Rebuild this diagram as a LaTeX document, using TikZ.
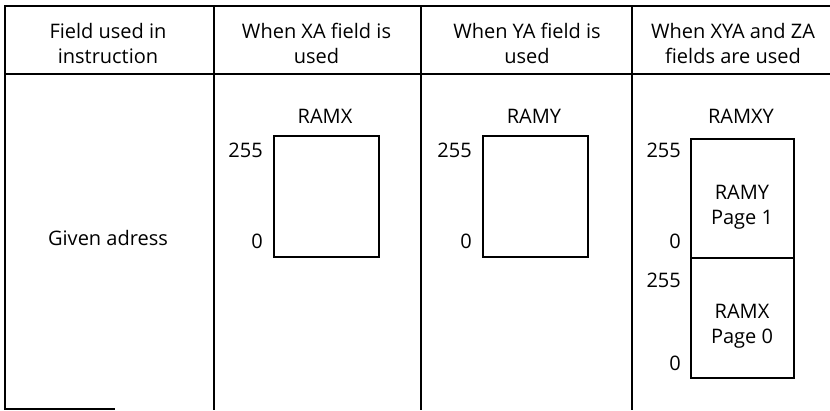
\documentclass[tikz,border=0pt]{standalone}
\usepackage{fontspec}
\setmainfont{Open Sans}
\begin{document}
\begin{tikzpicture}[x=1pt,y=-1pt,
  grid/.style={line width=1.4pt},
  txt/.style={font=\fontsize{20}{25}\selectfont, inner sep=0pt, align=center, anchor=base},
  memb/.style={draw, line width=1.4pt, inner sep=0pt},
  num/.style={font=\fontsize{20}{25}\selectfont, inner sep=0pt, anchor=base east}]
\useasboundingbox (0,0) rectangle (830,410);
% table grid
\coordinate (tl) at (5,6);
\coordinate (tr) at (830,6);
\coordinate (hl) at (5,74);
\coordinate (hr) at (830,74);
\coordinate (bl) at (5,409);
\coordinate (bm) at (115,409);
\draw[grid] (tr) -- (tl) -- (bl) -- (bm);
\draw[grid] (hl) -- (hr);
\foreach \x/\n in {214/a,421/b,632/c}{
  \coordinate (\n t) at (\x,6);
  \coordinate (\n b) at (\x,410);
  \draw[grid] (\n t) -- (\n b);
}
% headers (base anchor = baseline of last line)
\node[txt] (h1) at (108,63) {Field used in\\instruction};
\node[txt] (h2) at (316.5,63) {When XA field is\\used};
\node[txt] (h3) at (527,63) {When YA field is\\used};
\node[txt] (h4) at (733,63) {When XYA and ZA\\fields are used};
\node[txt] (ga) at (108,245) {Given adress};
% RAMX
\node[txt] (rx) at (325,123) {RAMX};
\node[memb, minimum width=105, minimum height=121] (bx) at (326.5,196.5) {};
\node[num] (x255) at (263,157) {255};
\node[num] (x0) at (263,248) {0};
% RAMY
\node[txt] (ry) at (534,123) {RAMY};
\node[memb, minimum width=105, minimum height=121] (by) at (535.5,196.5) {};
\node[num] (y255) at (472,157) {255};
\node[num] (y0) at (472,248) {0};
% RAMXY
\node[txt] (rxy) at (741,123) {RAMXY};
\node[memb, minimum width=103, minimum height=119] (bp1) at (742.5,198.5) {};
\node[memb, minimum width=103, minimum height=120] (bp0) at (742.5,318) {};
\node[txt] (p1) at (742,224) {RAMY\\Page 1};
\node[txt] (p0) at (742,343) {RAMX\\Page 0};
\node[num] (z255a) at (681,157) {255};
\node[num] (z0a) at (681,248) {0};
\node[num] (z255b) at (681,287) {255};
\node[num] (z0b) at (681,370) {0};
\end{tikzpicture}
\end{document}
